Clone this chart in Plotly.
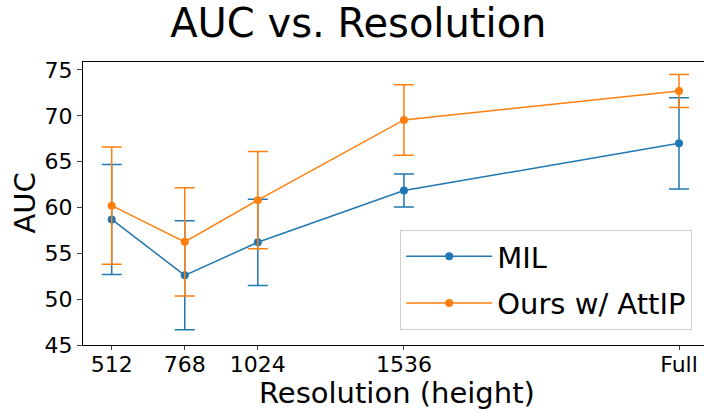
import plotly.graph_objects as go

# x positions (pixel height of input), "Full" placed at 2500
res_x      = [512, 768, 1024, 1536, 2500]
tick_text  = ["512", "768", "1024", "1536", "Full"]

mil_auc    = [58.7, 52.6, 56.2, 61.85, 67.0]
mil_err    = [6.0, 5.95, 4.7, 1.8, 4.97]

ours_auc   = [60.2, 56.25, 60.8, 69.55, 72.7]
ours_err   = [6.4, 5.9, 5.3, 3.85, 1.8]

BLUE = "#1f77b4"
ORANGE = "#ff7f0e"
FONT = "DejaVu Sans"

fig = go.Figure()
for name, y, e, c in [("MIL", mil_auc, mil_err, BLUE),
                      ("Ours w/ AttIP", ours_auc, ours_err, ORANGE)]:
    fig.add_trace(go.Scatter(
        x=res_x, y=y, name=name, mode="lines+markers", legendgroup=name,
        line=dict(color=c, width=1.5),
        marker=dict(color=c, size=8),
        error_y=dict(type="data", array=e, visible=True, color=c,
                     thickness=1.5, width=10),
    ))

fig.update_layout(
    width=704, height=412,
    paper_bgcolor="white", plot_bgcolor="white",
    margin=dict(l=83, r=0, t=62, b=67),
    font=dict(family=FONT, color="black"),
    title=dict(text="AUC vs. Resolution", font=dict(size=40, family=FONT),
               x=0.509, xanchor="center", xref="container",
               y=0.943, yanchor="middle", yref="container"),
    legend=dict(x=0.981, y=0.053, xanchor="right", yanchor="bottom",
                font=dict(size=29), bordercolor="#d0d0d0", borderwidth=1,
                bgcolor="rgba(255,255,255,0.8)", tracegroupgap=6,
                itemwidth=86),
    showlegend=True,
)
# axis titles placed as annotations for exact positions
fig.add_annotation(text="Resolution (height)", xref="paper", yref="paper",
                   x=0.505, y=-0.17, xanchor="center", yanchor="middle",
                   showarrow=False, font=dict(size=29))
fig.add_annotation(text="AUC", xref="paper", yref="paper", textangle=-90,
                   x=-0.095, y=0.5, xanchor="center", yanchor="middle",
                   showarrow=False, font=dict(size=29))
fig.update_xaxes(
    range=[411.4, 2587.6], tickvals=res_x, ticktext=tick_text,
    showgrid=False, zeroline=False, showline=True, mirror=True,
    linecolor="black", linewidth=1, ticks="outside", ticklen=4,
    ticklabelstandoff=-4,
    tickfont=dict(size=22), automargin=False,
)
fig.update_yaxes(
    range=[45, 75.87], tickvals=[45, 50, 55, 60, 65, 70, 75],
    showgrid=False, zeroline=False, showline=True, mirror=False,
    linecolor="black", linewidth=1, ticks="outside", ticklen=5,
    tickfont=dict(size=22), automargin=False,
)

fig.write_html("out.html", config={"displayModeBar": False},
               post_script="document.body.style.margin='0';")
